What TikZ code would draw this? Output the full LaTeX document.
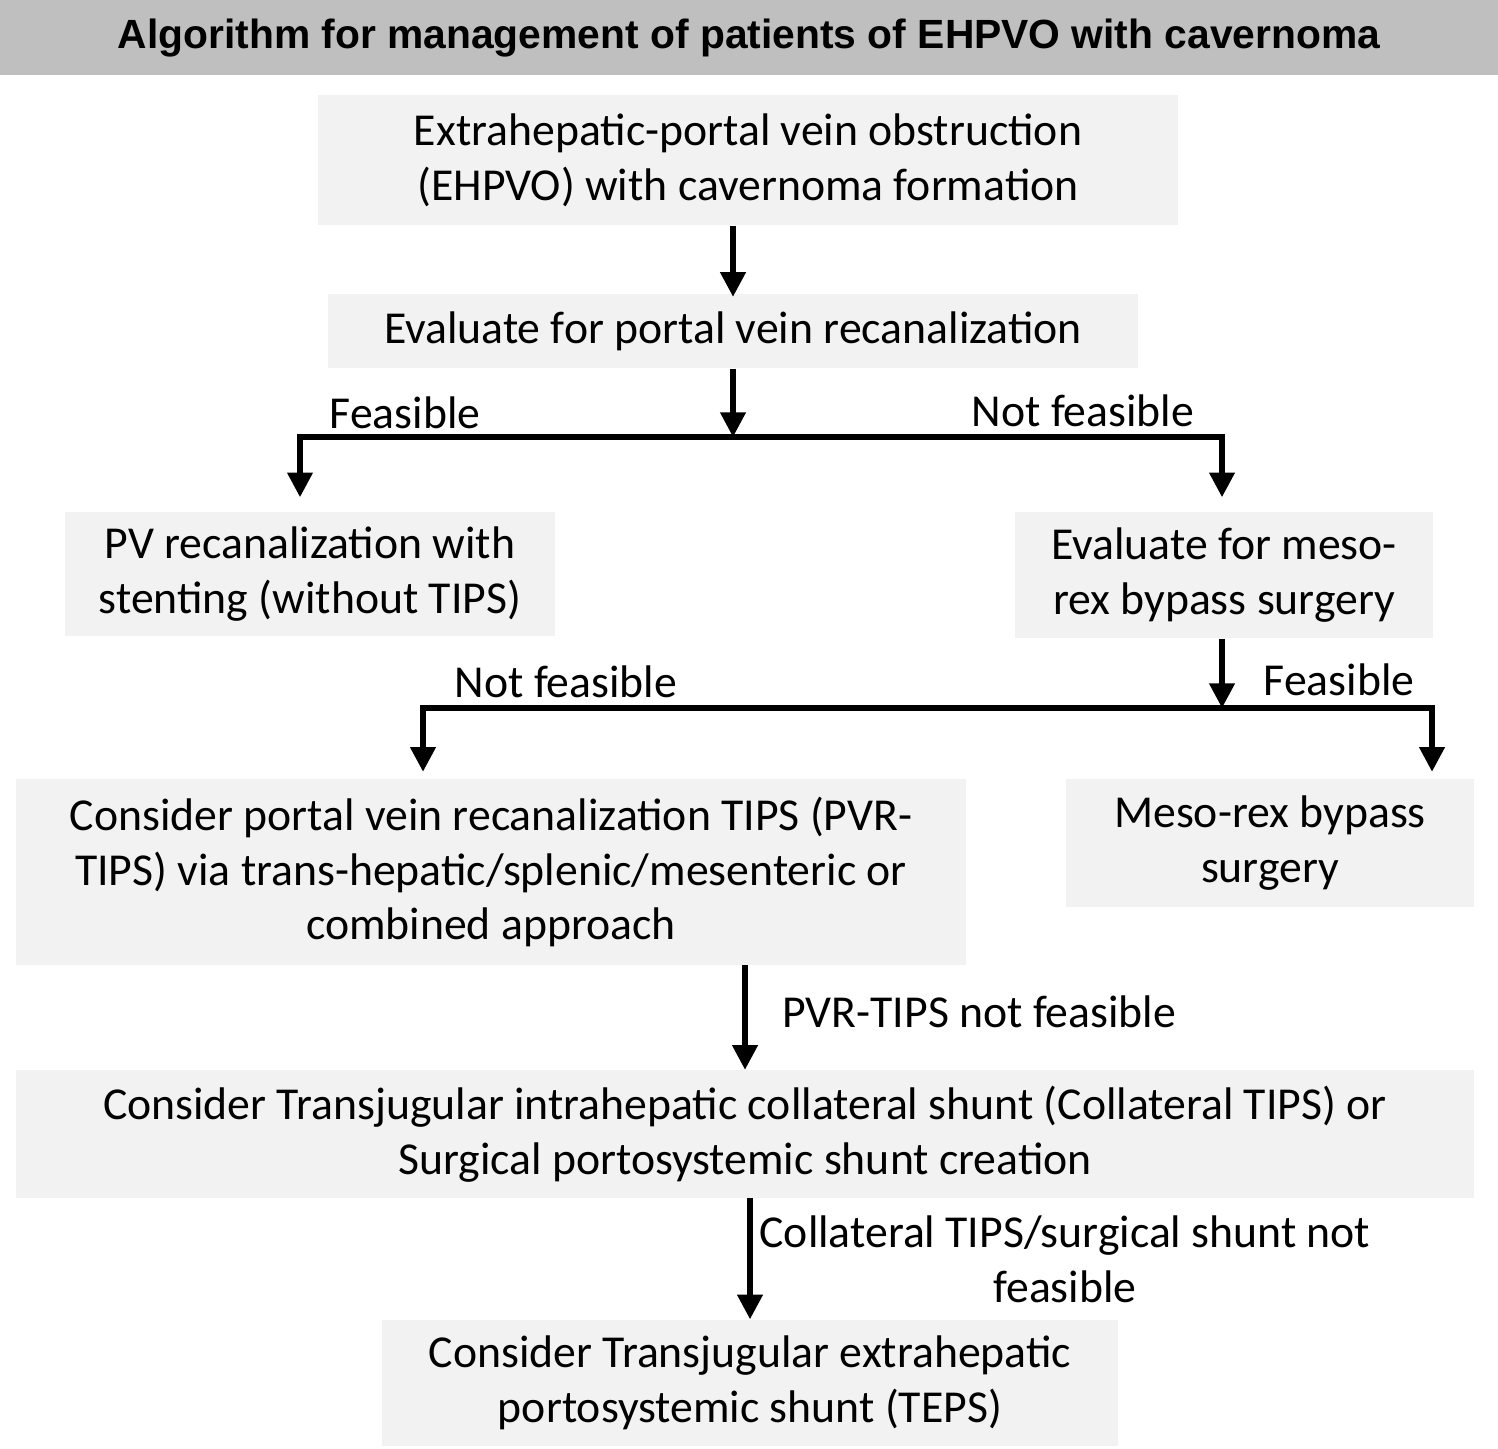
\documentclass[tikz,border=0pt]{standalone}
\usepackage{fontspec}
\setmainfont{Carlito}
\newfontfamily\titlefont{Liberation Sans}
\usetikzlibrary{arrows.meta}
\definecolor{boxgray}{HTML}{F2F2F2}
\definecolor{bargray}{HTML}{BFBFBF}
\begin{document}
\begin{tikzpicture}[x=0.01cm, y=0.01cm, >={Triangle[length=7pt,width=7pt]},
    stepbox/.style={fill=boxgray, align=center, inner sep=0pt, font=\fontsize{13pt}{15.6pt}\selectfont},
    lbl/.style={font=\fontsize{13pt}{15.6pt}\selectfont},
    flow/.style={line width=1.5pt}]

        % Background and title bar
        \useasboundingbox (0,0) rectangle (1498,-1448);
        \fill[bargray] (0,0) rectangle (1498,-75);
        \node (title) at (749,-38) {\titlefont\bfseries\fontsize{11.6pt}{14pt}\selectfont Algorithm for management of patients of EHPVO with cavernoma};

        % Boxes
        \node[stepbox, minimum width=8.6cm, minimum height=1.3cm] (ehpvo) at (748,-160) {Extrahepatic-portal vein obstruction\\(EHPVO) with cavernoma formation};
        \node[stepbox, minimum width=8.1cm, minimum height=0.74cm] (eval) at (733,-331) {Evaluate for portal vein recanalization};
        \node[stepbox, minimum width=4.89cm, minimum height=1.24cm] (pvr) at (310,-574) {PV recanalization with\\stenting (without TIPS)};
        \node[stepbox, minimum width=4.18cm, minimum height=1.26cm] (meso) at (1224,-575) {Evaluate for meso-\\rex bypass surgery};
        \node[stepbox, minimum width=9.5cm, minimum height=1.85cm] (pvrtips) at (491,-872) {Consider portal vein recanalization TIPS (PVR-\\TIPS) via trans-hepatic/splenic/mesenteric or\\combined approach};
        \node[stepbox, minimum width=4.08cm, minimum height=1.27cm] (bypass) at (1270,-843) {Meso-rex bypass\\surgery};
        \node[stepbox, minimum width=14.58cm, minimum height=1.27cm] (coll) at (745,-1134) {Consider Transjugular intrahepatic collateral shunt (Collateral TIPS) or\\Surgical portosystemic shunt creation};
        \node[stepbox, minimum width=7.35cm, minimum height=1.26cm] (teps) at (750,-1383) {Consider Transjugular extrahepatic\\portosystemic shunt (TEPS)};

        % Split points
        \coordinate (s1) at (733,-437);
        \coordinate (s2) at (1222,-708);

        % Connectors
        \draw[flow,->] (ehpvo.south -| eval.north) -- ([yshift=-1pt]eval.north);
        \draw[flow,->] (eval.south) -- (s1);
        \draw[flow,->] (s1) -- (300,-437) -- ([yshift=4pt]pvr.north -| 300,0);
        \draw[flow,->] (s1) -- (1222,-437) -- ([yshift=4pt]meso.north -| 1222,0);
        \draw[flow,->] (meso.south -| 1222,0) -- (s2);
        \draw[flow,->] (s2) -- (423,-708) -- ([yshift=2pt]pvrtips.north -| 423,0);
        \draw[flow,->] (s2) -- (1432,-708) -- ([yshift=2pt]bypass.north -| 1432,0);
        \draw[flow,->] (pvrtips.south -| 745,0) -- (coll.north -| 745,0);
        \draw[flow,->] (coll.south -| 750,0) -- (teps.north);

        % Labels
        \node[lbl] (l1) at (405,-413) {Feasible};
        \node[lbl] (l2) at (1083,-411) {Not feasible};
        \node[lbl] (l3) at (566,-682) {Not feasible};
        \node[lbl] (l4) at (1339,-680) {Feasible};
        \node[lbl, anchor=west] (l5) at (770,-1012) {PVR-TIPS not feasible};
        \node[lbl, align=center] (l6) at (1065,-1259) {Collateral TIPS/surgical shunt not\\feasible};

\end{tikzpicture}
\end{document}
